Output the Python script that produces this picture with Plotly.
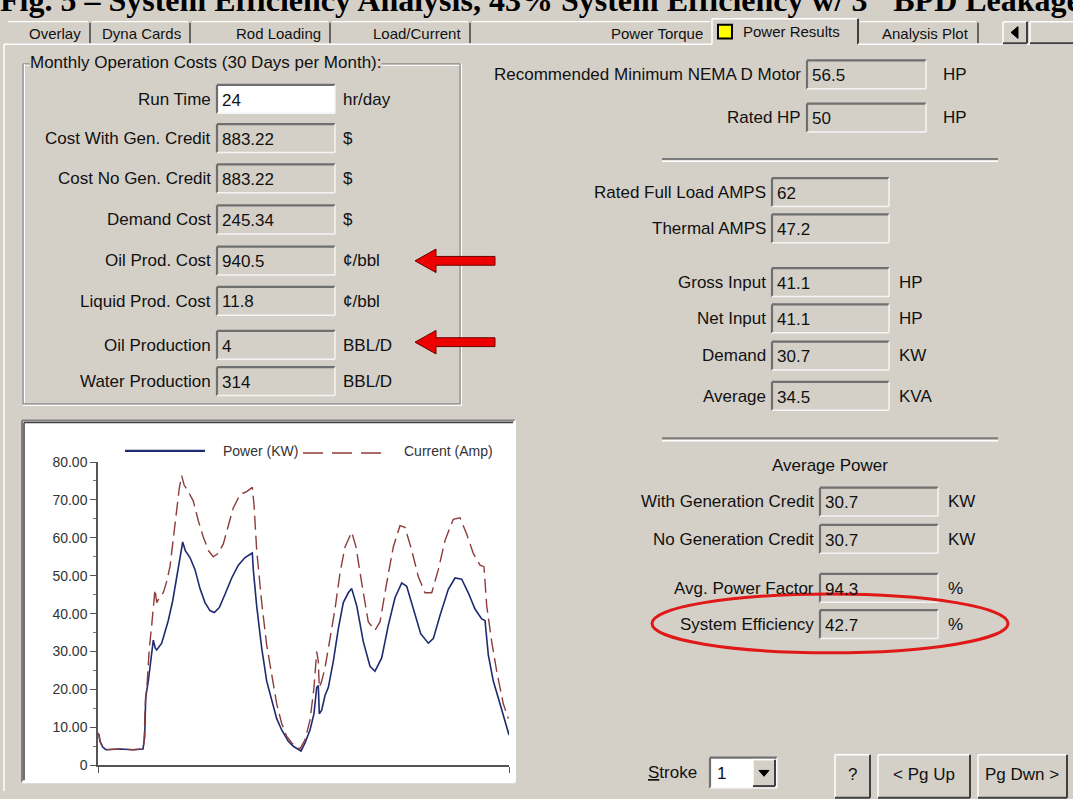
import plotly.graph_objects as go

# ---- chart data (power / current over one stroke) ----
power_x = [0, 1, 2, 4.7, 8, 22, 35, 45, 46.7, 47.7, 50.3, 52.7, 55.3, 57.3, 58.7, 63.7, 67, 70.3,
           74.7, 78.7, 82, 84.7, 87.3, 92, 97, 102, 107, 112, 116.3, 121.3, 127, 133.7, 140.3, 147,
           154.3, 155.3, 158.7, 163.7, 168.7, 173.7, 178.7, 183.7, 190.3, 195.3, 200.3, 203, 207, 212,
           216, 218.7, 220.3, 221.3, 223.7, 227, 230.3, 235.3, 240.3, 245.3, 250.3, 253.7, 258.7, 265.3,
           272, 277, 283.7, 290.3, 297, 303.7, 308.7, 315.3, 322.7, 330.3, 335.3, 342, 350.3, 357,
           363.7, 370.3, 377, 383.7, 387, 390.3, 395.3, 402, 407, 411]
power_kw = [8.5, 8.0, 6.3, 4.8, 4.1, 4.3, 4.1, 4.3, 7.6, 17.9, 22.2, 28.3, 33.0, 30.9, 30.4, 32.2, 35.2, 38.2,
            43.4, 49.4, 55.4, 58.9, 56.6, 54.8, 51.6, 46.6, 42.9, 40.8, 40.3, 41.6, 45.1, 49.4, 52.8, 54.8,
            56.0, 51.6, 42.0, 30.9, 22.2, 17.1, 12.3, 9.3, 6.3, 5.0, 4.3, 3.7, 5.9, 9.3,
            13.6, 20.5, 21.0, 13.6, 14.5, 18.4, 20.5, 27.4, 36.0, 42.9, 45.5, 46.6, 42.1, 32.6,
            26.1, 24.8, 28.3, 36.9, 44.2, 48.1, 47.2, 41.2, 34.7, 32.2, 33.4, 39.5, 46.4, 49.4,
            49.1, 45.5, 41.2, 38.6, 38.2, 29.1, 22.2, 16.2, 11.5, 8.0]

current_x = [0, 1, 2, 4.7, 8, 22, 35, 45, 46, 47.3, 49.3, 51.3, 53.7, 56, 57, 58.7, 61.3, 65.3,
             68.7, 72, 75.3, 78.7, 81.3, 83.7, 86, 90.3, 95.3, 100.3, 105.3, 110.3, 115.3, 120.3,
             125.3, 130.3, 135.3, 142, 148.7, 154.3, 156, 158.7, 163.7, 168.7, 173.7, 178.7, 183.7,
             188.7, 195.3, 202, 207, 212, 216, 218.7, 220.3, 221.3, 223.7, 227, 232, 237, 242, 247,
             253.7, 258, 263.7, 270.3, 277, 282, 288.7, 295.3, 302, 307, 313.7, 320.3, 327, 333.7,
             340.3, 347, 355.3, 362, 368.7, 375.3, 382, 386, 388.7, 393.7, 398.7, 405.3, 410.3]
current_amp = [8.5, 8.0, 6.3, 4.8, 4.1, 4.3, 4.1, 4.3, 5.9, 16.2, 22.2, 30.9, 36.9, 44.7, 46.4, 42.9, 44.2, 45.5,
               48.5, 52.4, 60.2, 67.1, 73.1, 76.4, 74.0, 72.2, 69.7, 64.5, 60.2, 56.7, 55.0, 55.9,
               58.4, 63.2, 67.9, 71.4, 72.2, 73.3, 68.8, 56.7, 42.9, 31.7, 24.0, 16.2, 11.0,
               7.6, 5.4, 4.3, 6.7, 11.9, 20.5, 30.0, 27.4, 20.5, 22.2, 25.7, 33.4, 41.2, 50.7, 57.6,
               61.5, 57.6, 48.1, 37.8, 35.6, 37.8, 48.1, 57.6, 63.2, 62.8, 56.7, 49.8, 45.5, 45.5,
               51.6, 59.3, 64.9, 65.3, 61.0, 55.9, 52.8, 52.4, 42.1, 32.6, 24.8, 16.2, 12.3]

y_ticks = [0, 10, 20, 30, 40, 50, 60, 70, 80]
y_tick_text = ["0", "10.00", "20.00", "30.00", "40.00", "50.00", "60.00", "70.00", "80.00"]

# ---- form data ----
tab_names = ["Overlay", "Dyna Cards", "Rod Loading", "Load/Current", "Power Torque", "Power Results", "Analysis Plot"]

cost_labels = ["Run Time", "Cost With Gen. Credit", "Cost No Gen. Credit", "Demand Cost",
               "Oil Prod. Cost", "Liquid Prod. Cost", "Oil Production", "Water Production"]
cost_values = ["24", "883.22", "883.22", "245.34", "940.5", "11.8", "4", "314"]
cost_units = ["hr/day", "$", "$", "$", "¢/bbl", "¢/bbl", "BBL/D", "BBL/D"]

motor_labels = ["Recommended Minimum NEMA D Motor", "Rated HP"]
motor_values = ["56.5", "50"]
motor_units = ["HP", "HP"]

amps_labels = ["Rated Full Load AMPS", "Thermal AMPS"]
amps_values = ["62", "47.2"]

input_labels = ["Gross Input", "Net Input", "Demand", "Average"]
input_values = ["41.1", "41.1", "30.7", "34.5"]
input_units = ["HP", "HP", "KW", "KVA"]

avg_labels = ["With Generation Credit", "No Generation Credit", "Avg. Power Factor", "System Efficiency"]
avg_values = ["30.7", "30.7", "94.3", "42.7"]
avg_units = ["KW", "KW", "%", "%"]

W, H = 1073, 799
BG = "#d4d0c8"
UI = "Liberation Sans, Arial, sans-serif"


def fx(x):
    return x / W


def fy(y):
    return 1 - y / H


shapes = []
annotations = []


def line(x0, y0, x1, y1, color, width=1, dash=None):
    shapes.append(dict(type="line", xref="paper", yref="paper",
                       x0=fx(x0), y0=fy(y0), x1=fx(x1), y1=fy(y1),
                       line=dict(color=color, width=width, dash=dash)))


def rect(x0, y0, x1, y1, fill, color=None, width=0):
    shapes.append(dict(type="rect", xref="paper", yref="paper", layer="below",
                       x0=fx(x0), y0=fy(y0), x1=fx(x1), y1=fy(y1),
                       fillcolor=fill, line=dict(color=color or fill, width=width)))


def path(points, fill, color, width=1):
    d = "M " + " L ".join(f"{fx(x):.5f},{fy(y):.5f}" for x, y in points) + " Z"
    shapes.append(dict(type="path", xref="paper", yref="paper", path=d,
                       fillcolor=fill, line=dict(color=color, width=width)))


def text(x, y, s, size=17, anchor="left", color="#111", family=UI, bg=None):
    annotations.append(dict(x=fx(x), y=fy(y), xref="paper", yref="paper", text=s,
                            showarrow=False, xanchor=anchor, yanchor="middle",
                            font=dict(family=family, size=size, color=color),
                            bgcolor=bg, borderpad=0))


def sunken(x0, y0, x1, y1, fill=BG):
    rect(x0, y0, x1, y1, fill)
    line(x0, y0, x1, y0, "#6f6f6f", 2.2)
    line(x0, y0, x0, y1, "#6f6f6f", 2.2)
    line(x0, y1, x1, y1, "#f4f4f4", 1.5)
    line(x1, y0, x1, y1, "#f4f4f4", 1.5)


def raised(x0, y0, x1, y1):
    rect(x0, y0, x1, y1, BG)
    line(x0, y0, x1, y0, "#ffffff", 1.5)
    line(x0, y0, x0, y1, "#ffffff", 1.5)
    line(x0, y1, x1, y1, "#404040", 2)
    line(x1, y0, x1, y1, "#404040", 2)


def field(label, value, unit, bx0, bx1, yc, unit_x, fill=BG, h=29):
    sunken(bx0, yc - h / 2, bx1, yc + h / 2, fill)
    text(bx0 - 5, yc, label, anchor="right")
    text(bx0 + 4, yc + 1, value)
    if unit:
        text(unit_x, yc, unit)


# ---- title (top half is cut off in the screenshot) ----
text(-1, -8.5, "<b>Fig. 5 – System Efficiency Analysis, 43% System Efficiency w/ 3\" BPD Leakage</b>",
     size=32, family="Liberation Serif, Times New Roman, serif", color="#000")

# ---- tab strip ----
tab_left = [6, 90, 190, 330, 470, 712, 858]
tab_right = [90, 190, 330, 470, 712, 858, 978]
for i, name in enumerate(tab_names):
    if name == "Power Results":
        line(712, 11, 858, 11, "#ffffff", 1.5)
        line(712, 11, 712, 37, "#ffffff", 1.5)
        line(858, 11, 858, 37, "#404040", 2)
        rect(718, 17, 732, 31, "#ffff00", "#000000", 2)
        text(742, 24, name, size=15)
    else:
        line(tab_left[i] + 2, 14, tab_right[i] - 2, 14, "#ffffff", 1.2)
        if i != 4:
            line(tab_right[i], 15, tab_right[i], 36, "#404040", 1.5)
        text(tab_right[i] - 8, 26, name, size=15, anchor="right")
line(4, 37, 712, 37, "#ffffff", 1.5)
line(858, 37, 1073, 37, "#ffffff", 1.5)
line(4, 37, 4, 799, "#ffffff", 1.5)
raised(1003, 14, 1027, 36)
path([(1011, 25), (1018, 19), (1018, 31)], "#000000", "#000000")
raised(1030, 14, 1080, 36)

# ---- monthly cost group ----
line(23, 57, 460, 57, "#8a8a8a", 1.2)
line(23, 58.5, 460, 58.5, "#ffffff", 1)
line(23, 57, 23, 404, "#8a8a8a", 1.2)
line(24.5, 57, 24.5, 404, "#ffffff", 1)
line(23, 404, 460, 404, "#8a8a8a", 1.2)
line(23, 405.5, 461.5, 405.5, "#ffffff", 1)
line(460, 57, 460, 404, "#8a8a8a", 1.2)
line(461.5, 57, 461.5, 405.5, "#ffffff", 1)
text(29, 56, "Monthly Operation Costs (30 Days per Month):", bg=BG)

cost_rows = [93, 133, 174, 216, 258, 299, 344, 381]
for i, lab in enumerate(cost_labels):
    field(lab, cost_values[i], cost_units[i], 217, 335, cost_rows[i], 342,
          fill="#ffffff" if i == 0 else BG)

# red arrows
for yc in [258, 341]:
    path([(415, yc), (436, yc - 12), (436, yc - 4.5), (495, yc - 4.5),
          (495, yc + 4.5), (436, yc + 4.5), (436, yc + 12)], "#ee0000", "#6a0000", 1)

# ---- right side fields ----
for i, yc in enumerate([68, 112]):
    field(motor_labels[i], motor_values[i], motor_units[i], 807, 926, yc, 942)
line(662, 154, 998, 154, "#7b7b7b", 2)
line(662, 156.5, 998, 156.5, "#ffffff", 1.5)
for i, yc in enumerate([188, 225]):
    field(amps_labels[i], amps_values[i], None, 772, 889, yc, 0)
for i, yc in enumerate([280, 317, 355, 396]):
    field(input_labels[i], input_values[i], input_units[i], 772, 889, yc, 898)
line(662, 439, 998, 439, "#7b7b7b", 2)
line(662, 441.5, 998, 441.5, "#ffffff", 1.5)
text(830, 467, "Average Power", anchor="center")
for i, yc in enumerate([504, 542, 592, 629]):
    field(avg_labels[i], avg_values[i], avg_units[i], 820, 938, yc, 947)

# red ellipse round System Efficiency
shapes.append(dict(type="circle", xref="paper", yref="paper",
                   x0=fx(652), x1=fx(1008), y0=fy(598), y1=fy(658),
                   line=dict(color="#e01818", width=3)))

# ---- bottom controls ----
text(647, 780, "<u>S</u>troke")
sunken(710, 765, 777, 796, "#ffffff")
text(716, 781, "1")
raised(753, 767, 775, 794)
path([(759, 778), (769, 778), (764, 784)], "#000000", "#000000")
raised(835, 762, 870, 806)
text(852, 782, "?", anchor="center")
raised(878, 762, 970, 806)
text(924, 782, "< Pg Up", anchor="center")
raised(978, 762, 1067, 806)
text(1022, 782, "Pg Dwn >", anchor="center")

# ---- chart panel ----
rect(22, 421, 515, 790, "#ffffff")
line(22, 421, 515, 421, "#808080", 2)
line(22, 421, 22, 790, "#808080", 2)
line(24, 423, 513, 423, "#404040", 1.5)
line(24, 423, 24, 788, "#404040", 1.5)
line(22, 790, 515, 790, "#ffffff", 2)
line(515, 421, 515, 790, "#ffffff", 2)

# legend drawn by hand
line(125, 452, 205, 452, "#1f2a70", 2.2)
text(222, 452, "Power (KW)", size=14, color="#333")
line(303, 454, 385, 454, "#8e3b3b", 1.5, dash="20px,9px")
text(403, 452, "Current (Amp)", size=14, color="#333")

fig = go.Figure()
fig.add_trace(go.Scatter(x=power_x, y=power_kw, mode="lines", name="Power (KW)",
                         line=dict(color="#1f2a70", width=1.6), hoverinfo="skip"))
fig.add_trace(go.Scatter(x=current_x, y=current_amp, mode="lines", name="Current (Amp)",
                         line=dict(color="#8e3b3b", width=1.4, dash="14px,6px"), hoverinfo="skip"))

fig.update_layout(
    width=W, height=H,
    margin=dict(l=0, r=0, t=0, b=0),
    paper_bgcolor=BG,
    plot_bgcolor="rgba(0,0,0,0)",
    showlegend=False,
    shapes=shapes,
    annotations=annotations,
    xaxis=dict(domain=[fx(98), fx(509)], range=[0, 411], showgrid=False, zeroline=False,
               showline=True, linecolor="#555", linewidth=1.5, showticklabels=False,
               ticks="outside", tickvals=[0, 411], ticklen=6, tickcolor="#555"),
    yaxis=dict(domain=[fy(772.7), fy(463.3)], range=[0, 80], showgrid=False, zeroline=False,
               showline=True, linecolor="#555", linewidth=1.5,
               tickvals=y_ticks, ticktext=y_tick_text, ticks="outside", ticklen=6,
               tickcolor="#555", tickwidth=1.2,
               tickfont=dict(family="Liberation Sans, Arial, sans-serif", size=14, color="#333"),
               minor=dict(dtick=5, ticks="outside", ticklen=3, tickcolor="#777")),
)

fig.write_html("out.html", config={"displayModeBar": False},
               post_script="document.body.style.margin='0';document.body.style.overflow='hidden';")
